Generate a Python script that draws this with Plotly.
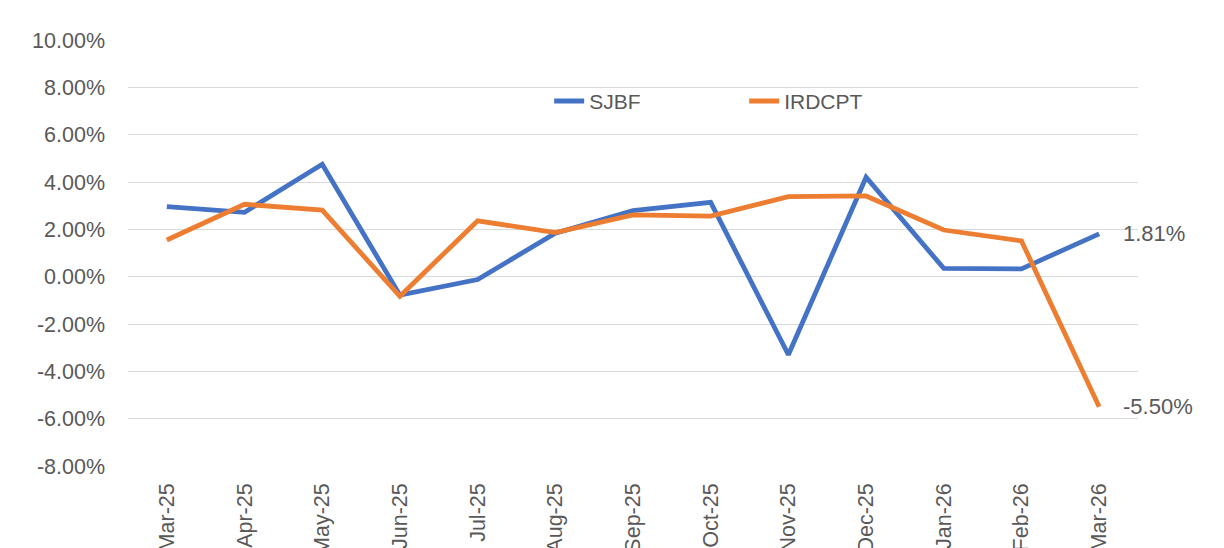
import plotly.graph_objects as go

months = ["Mar-25", "Apr-25", "May-25", "Jun-25", "Jul-25", "Aug-25", "Sep-25",
          "Oct-25", "Nov-25", "Dec-25", "Jan-26", "Feb-26", "Mar-26"]
sjbf = [2.96, 2.72, 4.75, -0.78, -0.12, 1.84, 2.79, 3.14, -3.30, 4.20, 0.35, 0.33, 1.81]
irdcpt = [1.55, 3.06, 2.81, -0.83, 2.36, 1.86, 2.61, 2.56, 3.38, 3.41, 1.97, 1.51, -5.50]
y_ticks = [-8, -6, -4, -2, 0, 2, 4, 6, 8, 10]
y_tick_text = [f"{v:.2f}%" for v in y_ticks]

BLUE = "#4472C4"
ORANGE = "#ED7D31"
TEXT = "#595959"
FONT = "Liberation Sans, Arial, sans-serif"

fig = go.Figure()
fig.add_trace(go.Scatter(x=months, y=sjbf, name="SJBF", mode="lines",
                         line=dict(color=BLUE, width=4.8)))
fig.add_trace(go.Scatter(x=months, y=irdcpt, name="IRDCPT", mode="lines",
                         line=dict(color=ORANGE, width=4.8)))

for series in (sjbf, irdcpt):
    fig.add_annotation(x=months[-1], y=series[-1], text=f"{series[-1]:.2f}%",
                       showarrow=False, xanchor="left", yanchor="middle",
                       xshift=22, font=dict(size=22, color=TEXT, family=FONT))

# page body has an 8px default margin, so the figure is sized to fit the window
fig.update_layout(
    width=1216, height=540,
    margin=dict(l=120, r=86, t=31.5, b=82),
    paper_bgcolor="white", plot_bgcolor="white",
    font=dict(family=FONT, size=21, color=TEXT),
    showlegend=True,
    legend=dict(orientation="h", x=0.417, y=0.856, xanchor="left", yanchor="middle",
                font=dict(size=21, color=TEXT), bgcolor="rgba(0,0,0,0)",
                entrywidth=150, entrywidthmode="pixels"),
    xaxis=dict(type="category", range=[-0.5, len(months) - 0.5], showgrid=False,
               showline=False, ticks="", tickangle=-90, automargin=False,
               ticklabelstandoff=12, tickfont=dict(size=21.5, color=TEXT)),
    yaxis=dict(range=[-8, 10], tickvals=y_ticks, ticktext=y_tick_text,
               showgrid=True, gridcolor="#D9D9D9", gridwidth=1.3, zeroline=False,
               showline=False, automargin=False, ticklabelstandoff=22,
               tickfont=dict(size=21.5, color=TEXT)),
)

fig.write_html("out.html")
